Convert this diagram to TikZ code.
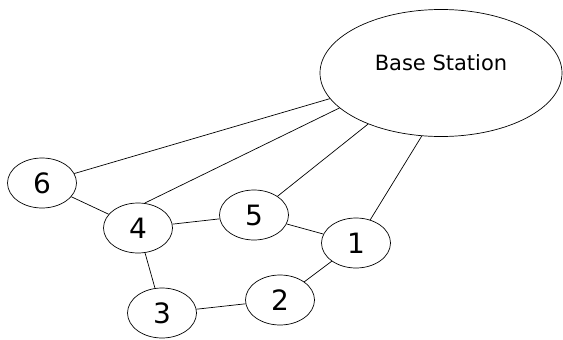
\documentclass[tikz,border=0pt]{standalone}
\usepackage{fontspec}
\setmainfont{DejaVu Sans}
\usetikzlibrary{shapes.geometric}
\tikzset{
  sensor/.style={ellipse, draw, line width=0.7pt, minimum width=69pt, minimum height=50pt,
                 inner sep=0pt, font=\fontsize{28}{28}\selectfont},
  station/.style={ellipse, draw, line width=0.7pt, minimum width=242pt, minimum height=127pt,
                  inner sep=0pt},
  link/.style={line width=0.7pt}
}
\begin{document}
\begin{tikzpicture}[x=1pt,y=-1pt]
    \useasboundingbox (0,0) rectangle (563,340);
    \node[station, label={[yshift=10pt, font=\fontsize{21}{21}\selectfont]center:Base Station}] (bs) at (441,73) {};
    \node[sensor] (n6) at (42,183) {6};
    \node[sensor] (n4) at (138,228) {4};
    \node[sensor] (n5) at (254,215) {5};
    \node[sensor] (n1) at (356,243) {1};
    \node[sensor] (n3) at (162,313) {3};
    \node[sensor] (n2) at (280,300) {2};
    % links to the base station
    \draw[link] (bs.193) -- (n6); \draw[link] (bs.199) -- (n4.75);
    \draw[link] (bs.215) -- (n5); \draw[link] (bs.253) -- (n1);
    \draw[link] (n6) -- (n4); \draw[link] (n4) -- (n5);
    \draw[link] (n5) -- (n1); \draw[link] (n4) -- (n3);
    \draw[link] (n3) -- (n2); \draw[link] (n2) -- (n1);
  \end{tikzpicture}
\end{document}
